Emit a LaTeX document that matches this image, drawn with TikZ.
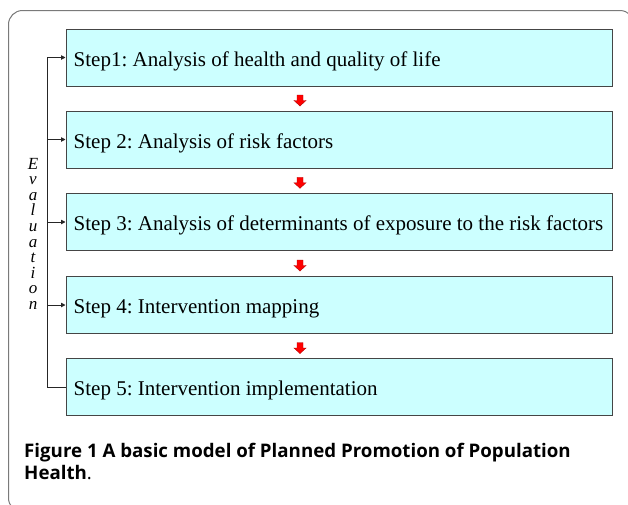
\documentclass[tikz,border=0pt]{standalone}
\usepackage{fontspec}
\setmainfont{Liberation Serif}
\newfontfamily\capfont{Open Sans}
\usetikzlibrary{arrows.meta,calc}
\definecolor{boxfill}{HTML}{CCFFFF}
\definecolor{boxline}{HTML}{454545}
\definecolor{framegray}{HTML}{7A7A7A}
\definecolor{arrowred}{HTML}{FF0000}
\definecolor{arrowdark}{HTML}{B00000}
\begin{document}
\frenchspacing
\begin{tikzpicture}[x=1pt,y=-1pt,
  stepbox/.style={draw=boxline, fill=boxfill, line width=1pt,
    minimum width=546pt, minimum height=57pt, inner sep=0pt},
  steptext/.style={anchor=base west, inner sep=0pt,
    font=\fontsize{21}{24}\selectfont},
  link/.style={draw=black!85, line width=0.9pt,
    -{Triangle[length=4.5pt,width=4.5pt]}},
  evl/.style={anchor=base, inner sep=0pt, font=\fontsize{17}{17}\selectfont\itshape},
  captext/.style={anchor=base west, inner sep=0pt, font=\capfont\fontsize{18.7}{22}\selectfont},
  redarrow/.pic={\filldraw[fill=arrowred, draw=arrowdark, line width=0.4pt]
     (-3,-5.5) -- (3,-5.5) -- (3,0) -- (6,0) -- (0,5.5) -- (-6,0) -- (-3,0) -- cycle;}
]
\useasboundingbox (0,0) rectangle (628,504);
\draw[framegray, line width=1pt, rounded corners=14pt] (8.5,10.5) rectangle (634,512);

\node[stepbox] (b1) at (339,57.5) {};
\node[stepbox] (b2) at (339,139.5) {};
\node[stepbox] (b3) at (339,222) {};
\node[stepbox] (b4) at (339,305) {};
\node[stepbox] (b5) at (339,387) {};

\node[steptext] (t1) at ([shift={(8,8.5)}]b1.west) {Step1: Analysis of health and quality of life};
\node[steptext] (t2) at ([shift={(8,8.5)}]b2.west) {Step 2: Analysis of risk factors};
\node[steptext] (t3) at ([shift={(8,8.5)}]b3.west) {Step 3: Analysis of determinants of exposure to the risk factors};
\node[steptext] (t4) at ([shift={(8,8.5)}]b4.west) {Step 4: Intervention mapping};
\node[steptext] (t5) at ([shift={(8,8.5)}]b5.west) {Step 5: Intervention implementation};

\coordinate (spine) at (47,0);
\coordinate (ax) at (300,0);

\draw[link] (b5.west) -- (b5.west -| spine) -- (b1.west -| spine) -- (b1.west);
\draw[link] (b2.west -| spine) -- (b2.west);
\draw[link] (b3.west -| spine) -- (b3.west);
\draw[link] (b4.west -| spine) -- (b4.west);

\pic at ($(b1.south -| ax)!0.5!(b2.north -| ax) + (0,2)$) {redarrow};
\pic at ($(b2.south -| ax)!0.5!(b3.north -| ax) + (0,2)$) {redarrow};
\pic at ($(b3.south -| ax)!0.5!(b4.north -| ax) + (0,2)$) {redarrow};
\pic at ($(b4.south -| ax)!0.5!(b5.north -| ax) + (0,2)$) {redarrow};

\foreach \l [count=\i] in {E,v,a,l,u,a,t,i,o,n}
  \node[evl] (ev\i) at (33,{169+15.6*(\i-1)}) {\l};

\node[captext] (cap1) at (24,457) {\textbf{Figure 1 A basic model of Planned Promotion of Population}};
\node[captext] (cap2) at (24,479) {\textbf{Health}.};
\end{tikzpicture}
\end{document}
